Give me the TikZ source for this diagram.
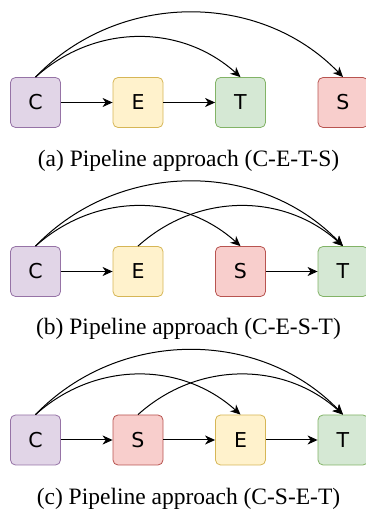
\documentclass[tikz,border=0pt]{standalone}
\usepackage{fontspec}
\setmainfont{Liberation Serif}
\newfontfamily\stagefont{DejaVu Sans}
\usepackage{tikz}
\usetikzlibrary{arrows.meta}

\definecolor{cfill}{HTML}{E1D5E7}
\definecolor{cline}{HTML}{9673A6}
\definecolor{efill}{HTML}{FFF2CC}
\definecolor{eline}{HTML}{D6B656}
\definecolor{tfill}{HTML}{D5E8D4}
\definecolor{tline}{HTML}{82B366}
\definecolor{sfill}{HTML}{F8CECC}
\definecolor{sline}{HTML}{B85450}

\tikzset{
	stage/.style={rectangle, rounded corners=5pt, minimum size=50pt, line width=0.8pt, inner sep=0pt, font=\stagefont\fontsize{20.5}{24}\selectfont},
	cstage/.style={stage, fill=cfill, draw=cline},
	estage/.style={stage, fill=efill, draw=eline},
	tstage/.style={stage, fill=tfill, draw=tline},
	sstage/.style={stage, fill=sfill, draw=sline},
	flow/.style={line width=1pt, -{Stealth[length=10pt,width=9pt,inset=3pt]}},
	caption/.style={anchor=base, inner sep=0pt, font=\fontsize{23.5}{28}\selectfont}
}

\begin{document}
\begin{tikzpicture}[x=1pt,y=1pt]
				\useasboundingbox (0,0) rectangle (366,512);
				
				% (a) C-E-T-S
				\node[cstage] (ca) at (35.5,409.5) {C};
				\node[estage] (ea) at (138,409.5) {E};
				\node[tstage] (ta) at (240.5,409.5) {T};
				\node[sstage] (sa) at (343,409.5) {S};
				\node[caption] (capa) at (188.5,345) {(a) Pipeline approach (C-E-T-S)};
				
				\draw[flow] (ca) -- (ea);
				\draw[flow] (ea) -- (ta);
				\draw[flow] (ca.north) to[out=42,in=138] (ta.north);
				\draw[flow] (ca.north) to[out=46,in=134] (sa.north);
				
				% (b) C-E-S-T
				\node[cstage] (cb) at (35.5,240.5) {C};
				\node[estage] (eb) at (138,240.5) {E};
				\node[sstage] (sb) at (240.5,240.5) {S};
				\node[tstage] (tb) at (343,240.5) {T};
				\node[caption] (capb) at (188.5,177) {(b) Pipeline approach (C-E-S-T)};
				
				\draw[flow] (cb) -- (eb);
				\draw[flow] (sb) -- (tb);
				\draw[flow] (cb.north) to[out=42,in=138] (sb.north);
				\draw[flow] (eb.north) to[out=42,in=138] (tb.north);
				\draw[flow] (cb.north) to[out=46,in=134] (tb.north);
				
				% (c) C-S-E-T
				\node[cstage] (cc) at (35.5,72) {C};
				\node[sstage] (sc) at (138,72) {S};
				\node[estage] (ec) at (240.5,72) {E};
				\node[tstage] (tc) at (343,72) {T};
				\node[caption] (capc) at (188.5,7) {(c) Pipeline approach (C-S-E-T)};
				
				\draw[flow] (cc) -- (sc);
				\draw[flow] (sc) -- (ec);
				\draw[flow] (ec) -- (tc);
				\draw[flow] (cc.north) to[out=42,in=138] (ec.north);
				\draw[flow] (sc.north) to[out=42,in=138] (tc.north);
				\draw[flow] (cc.north) to[out=46,in=134] (tc.north);
			\end{tikzpicture}
\end{document}
